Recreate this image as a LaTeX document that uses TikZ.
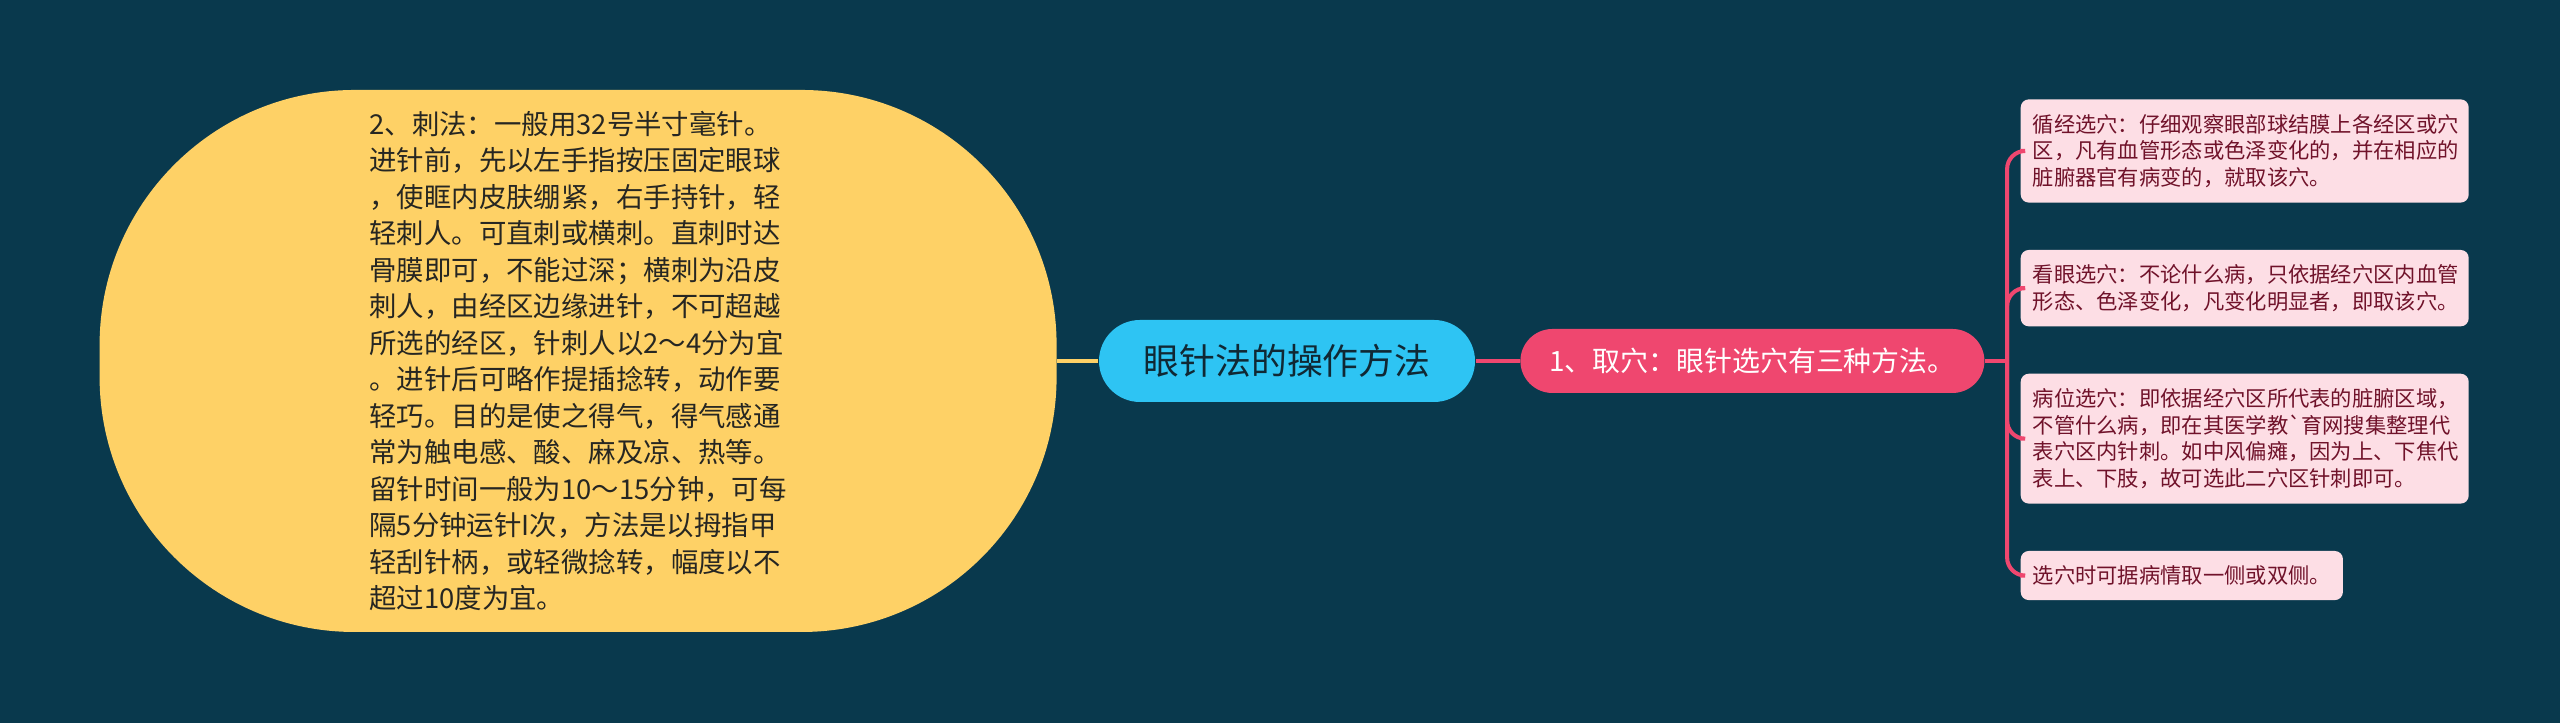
\documentclass[tikz,border=0pt]{standalone}
\usepackage{fontspec}
\newfontfamily\cjk{Noto Sans CJK SC}
\usetikzlibrary{positioning}

\definecolor{bgteal}{RGB}{9,57,77}
\definecolor{sunyellow}{RGB}{254,209,102}
\definecolor{skyblue}{RGB}{46,196,243}
\definecolor{rosered}{RGB}{239,71,111}
\definecolor{blush}{RGB}{253,222,229}
\definecolor{wine}{RGB}{112,18,42}
\definecolor{inkdark}{RGB}{38,38,34}
\definecolor{deepteal}{RGB}{16,40,52}

\begin{document}
\begin{tikzpicture}[
      node distance=4.6mm and 4mm,
      topic/.style={fill=skyblue,rounded corners=4.1mm,minimum width=37.6mm,minimum height=8.2mm,
        text=deepteal,font={\cjk\fontsize{10.2pt}{12pt}\selectfont}},
      oval/.style={fill=sunyellow,rounded corners=25.5mm,minimum width=95.7mm,minimum height=54.2mm,
        align=left,text=inkdark,font={\cjk\fontsize{7.8pt}{10.38pt}\selectfont}},
      branch/.style={fill=rosered,rounded corners=3.2mm,minimum width=46.4mm,minimum height=6.4mm,
        text=white,font={\cjk\fontsize{7.95pt}{9.5pt}\selectfont}},
      leaf/.style={fill=blush,rounded corners=0.8mm,inner xsep=1.2mm,inner ysep=1.47mm,
        align=left,text=wine,font={\cjk\fontsize{6.06pt}{7.6pt}\selectfont}},
      ylink/.style={draw=sunyellow,line width=1.15pt},
      plink/.style={draw=rosered,line width=1.15pt,rounded corners=1.8mm}
    ]
      % Canvas
      \fill[bgteal] (0,0) rectangle (25.6,7.23);
      \useasboundingbox (0,0) rectangle (25.6,7.23);

      % Central topic and main branches
      \node[topic] (main) at (12.87,3.62) {眼针法的操作方法};
      \node[oval,left=4.1mm of main] (needling) {2、刺法：一般用32号半寸毫针。\\
        进针前，先以左手指按压固定眼球\\
        ，使眶内皮肤绷紧，右手持针，轻\\
        轻刺人。可直刺或横刺。直刺时达\\
        骨膜即可，不能过深；横刺为沿皮\\
        刺人，由经区边缘进针，不可超越\\
        所选的经区，针刺人以2～4分为宜\\
        。进针后可略作提插捻转，动作要\\
        轻巧。目的是使之得气，得气感通\\
        常为触电感、酸、麻及凉、热等。\\
        留针时间一般为10～15分钟，可每\\
        隔5分钟运针I次，方法是以拇指甲\\
        轻刮针柄，或轻微捻转，幅度以不\\
        超过10度为宜。};
      \node[branch,right=4.4mm of main] (points) {1、取穴：眼针选穴有三种方法。};

      % Point selection leaves
      \node[leaf,text width=42.4mm,anchor=west] (meridian) at (20.20,5.72) {循经选穴：仔细观察眼部球结膜上各经区或穴\\
        区，凡有血管形态或色泽变化的，并在相应的\\
        脏腑器官有病变的，就取该穴。};
      \node[leaf,text width=42.4mm,below right=4.6mm and 0mm of meridian.south west] (eyelook) {看眼选穴：不论什么病，只依据经穴区内血管\\
        形态、色泽变化，凡变化明显者，即取该穴。};
      \node[leaf,text width=42.4mm,below right=4.6mm and 0mm of eyelook.south west] (disease) {病位选穴：即依据经穴区所代表的脏腑区域，\\
        不管什么病，即在其医学教\textasciigrave 育网搜集整理代\\
        表穴区内针刺。如中风偏瘫，因为上、下焦代\\
        表上、下肢，故可选此二穴区针刺即可。};
      \node[leaf,below right=4.6mm and 0mm of disease.south west] (side) {选穴时可据病情取一侧或双侧。};

      % Links
      \draw[ylink] (needling.east) -- (main.west);
      \draw[plink] (main.east) -- (points.west);
      \coordinate[right=2.2mm of points.east] (fork);
      \draw[plink] (points.east) -- (fork);
      \foreach \leafname in {meridian,eyelook,disease,side}
        \draw[plink] (fork) |- (\leafname.west);
    \end{tikzpicture}
\end{document}
